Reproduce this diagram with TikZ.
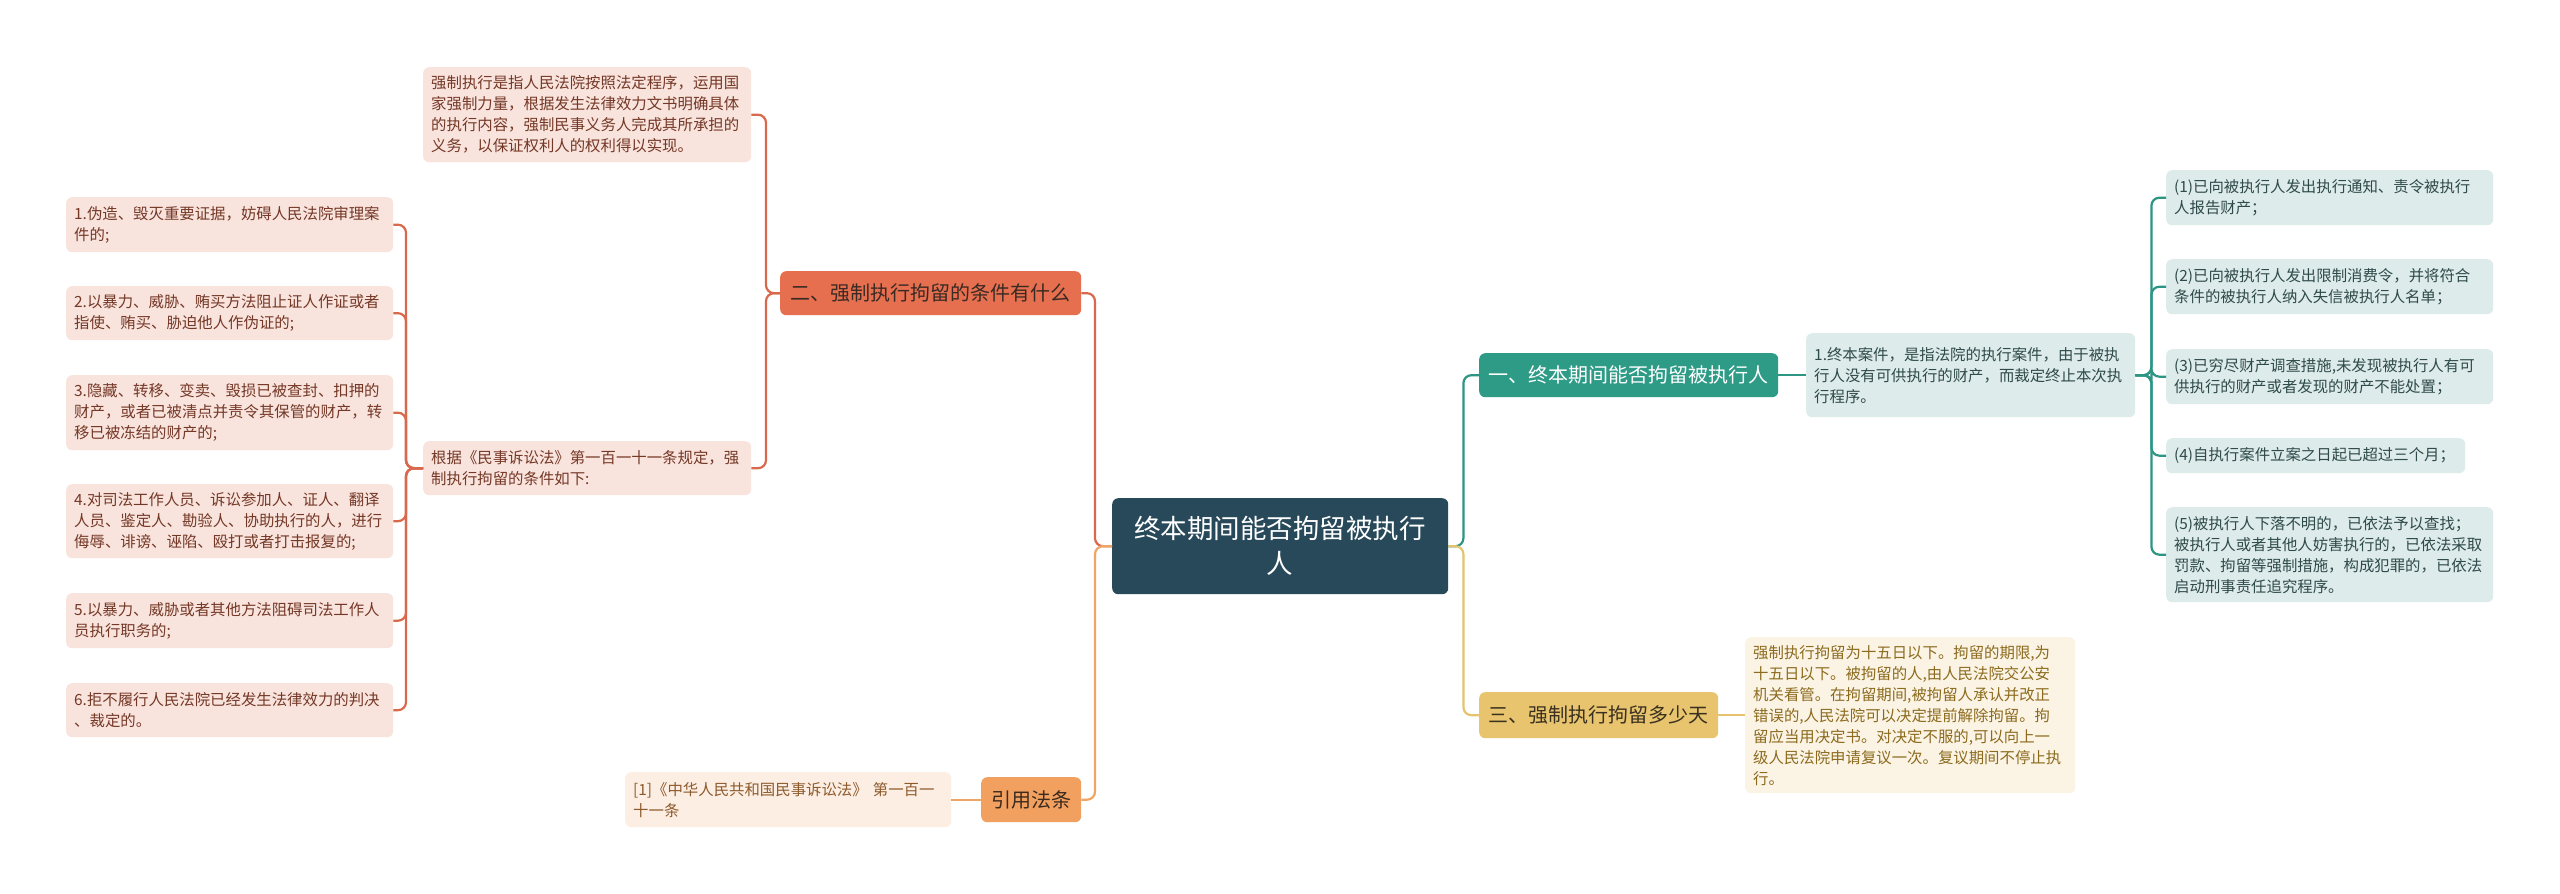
\documentclass[tikz,border=0pt]{standalone}
\usepackage{fontspec}
\setmainfont{Noto Sans CJK SC}
\definecolor{centralfill}{HTML}{27495A}
\definecolor{stwofill}{HTML}{E56F4E}
\definecolor{stwotext}{HTML}{3B2A24}
\definecolor{pinkfill}{HTML}{F9E3DD}
\definecolor{pinktext}{HTML}{743826}
\definecolor{redline}{HTML}{D9694C}
\definecolor{citefill}{HTML}{F1A05F}
\definecolor{citetext}{HTML}{3B2A1E}
\definecolor{reffill}{HTML}{FDEEE3}
\definecolor{reftext}{HTML}{8C5A2C}
\definecolor{orangeline}{HTML}{EFA566}
\definecolor{sonefill}{HTML}{2E9B87}
\definecolor{tealfill}{HTML}{DDEBEA}
\definecolor{tealtext}{HTML}{2F4A4A}
\definecolor{tealline}{HTML}{2C9583}
\definecolor{sthreefill}{HTML}{E7C46D}
\definecolor{sthreetext}{HTML}{3A3020}
\definecolor{goldfill}{HTML}{FBF3E3}
\definecolor{goldtext}{HTML}{8C6B1F}
\definecolor{goldline}{HTML}{E6C36C}
\tikzset{
  leaf/.style={rounded corners=6pt, inner xsep=8pt, inner ysep=3pt, align=left,
    font=\fontsize{15.4}{21}\selectfont, anchor=north west},
  pinkleaf/.style={leaf, fill=pinkfill, text=pinktext},
  refleaf/.style={leaf, fill=reffill, text=reftext},
  tealleaf/.style={leaf, fill=tealfill, text=tealtext},
  goldleaf/.style={leaf, fill=goldfill, text=goldtext},
  head/.style={rounded corners=6pt, inner sep=0pt, align=center, anchor=north west,
    font=\fontsize{20}{24}\selectfont},
  stwohead/.style={head, fill=stwofill, text=stwotext},
  citehead/.style={head, fill=citefill, text=citetext},
  sonehead/.style={head, fill=sonefill, text=white},
  sthreehead/.style={head, fill=sthreefill, text=sthreetext},
  centralhead/.style={head, fill=centralfill, text=white, font=\fontsize{26.5}{35}\selectfont},
  conn/.style={line width=2.2pt, rounded corners=8pt},
}
\newcommand\leafnode[7]{\pgfmathsetmacro\lfw{#5-#3-16}\pgfmathsetmacro\lfh{#6-#4}%
  \node[#2,text width=\lfw pt,minimum height=\lfh pt] (#1) at (#3,#4) {#7};}
\newcommand\headnode[7]{\pgfmathsetmacro\lfw{#5-#3}\pgfmathsetmacro\lfh{#6-#4}%
  \node[#2,minimum width=\lfw pt,minimum height=\lfh pt] (#1) at (#3,#4) {#7};}
\begin{document}
\begin{tikzpicture}[x=1pt,y=-1pt]
\fill[white] (0,0) rectangle (2560,894);
\useasboundingbox (0,0) rectangle (2560,894);

% central
\headnode{c}{centralhead}{1112}{498}{1448}{594}{终本期间能否拘留被执行\\人}

% section 2 branch
\headnode{s2}{stwohead}{780}{271}{1081}{315}{二、强制执行拘留的条件有什么}
\leafnode{def}{pinkleaf}{423}{67}{751}{162}{强制执行是指人民法院按照法定程序，运用国\\家强制力量，根据发生法律效力文书明确具体\\的执行内容，强制民事义务人完成其所承担的\\义务，以保证权利人的权利得以实现。}
\leafnode{intro}{pinkleaf}{423}{441}{751}{495}{根据《民事诉讼法》第一百一十一条规定，强\\制执行拘留的条件如下:}
\leafnode{ia}{pinkleaf}{66}{197}{393}{252}{1.伪造、毁灭重要证据，妨碍人民法院审理案\\件的;}
\leafnode{ib}{pinkleaf}{66}{286}{393}{340}{2.以暴力、威胁、贿买方法阻止证人作证或者\\指使、贿买、胁迫他人作伪证的;}
\leafnode{ic}{pinkleaf}{66}{375}{393}{450}{3.隐藏、转移、变卖、毁损已被查封、扣押的\\财产，或者已被清点并责令其保管的财产，转\\移已被冻结的财产的;}
\leafnode{id}{pinkleaf}{66}{484}{393}{558}{4.对司法工作人员、诉讼参加人、证人、翻译\\人员、鉴定人、勘验人、协助执行的人，进行\\侮辱、诽谤、诬陷、殴打或者打击报复的;}
\leafnode{ie}{pinkleaf}{66}{593}{393}{648}{5.以暴力、威胁或者其他方法阻碍司法工作人\\员执行职务的;}
\leafnode{if}{pinkleaf}{66}{683}{393}{737}{6.拒不履行人民法院已经发生法律效力的判决\\、裁定的。}

% cite branch
\headnode{cite}{citehead}{981}{777}{1081}{822}{引用法条}
\leafnode{ref}{refleaf}{625}{772}{951}{827}{[1]《中华人民共和国民事诉讼法》 第一百一\\十一条}

% section 1 branch
\headnode{s1}{sonehead}{1479}{353}{1778}{397}{一、终本期间能否拘留被执行人}
\leafnode{t1}{tealleaf}{1806}{333}{2135}{417}{1.终本案件，是指法院的执行案件，由于被执\\行人没有可供执行的财产，而裁定终止本次执\\行程序。}
\leafnode{ra}{tealleaf}{2166}{170}{2493}{225}{(1)已向被执行人发出执行通知、责令被执行\\人报告财产；}
\leafnode{rb}{tealleaf}{2166}{259}{2493}{314}{(2)已向被执行人发出限制消费令，并将符合\\条件的被执行人纳入失信被执行人名单；}
\leafnode{rc}{tealleaf}{2166}{349}{2493}{404}{(3)已穷尽财产调查措施,未发现被执行人有可\\供执行的财产或者发现的财产不能处置；}
\leafnode{rd}{tealleaf}{2166}{438}{2465}{473}{(4)自执行案件立案之日起已超过三个月；}
\leafnode{re}{tealleaf}{2166}{507}{2493}{602}{(5)被执行人下落不明的，已依法予以查找；\\被执行人或者其他人妨害执行的，已依法采取\\罚款、拘留等强制措施，构成犯罪的，已依法\\启动刑事责任追究程序。}

% section 3 branch
\headnode{s3}{sthreehead}{1479}{692}{1718}{738}{三、强制执行拘留多少天}
\leafnode{t3}{goldleaf}{1745}{637}{2075}{793}{强制执行拘留为十五日以下。拘留的期限,为\\十五日以下。被拘留的人,由人民法院交公安\\机关看管。在拘留期间,被拘留人承认并改正\\错误的,人民法院可以决定提前解除拘留。拘\\留应当用决定书。对决定不服的,可以向上一\\级人民法院申请复议一次。复议期间不停止执\\行。}

% connectors
\draw[conn,redline] (c.west) -- ++(-17,0) |- (s2.east);
\draw[conn,orangeline] (c.west) -- ++(-17,0) |- (cite.east);
\draw[conn,orangeline] (cite.west) -- (ref.east);
\draw[conn,redline] (s2.west) -- ++(-14,0) |- (def.east);
\draw[conn,redline] (s2.west) -- ++(-14,0) |- (intro.east);
\foreach \k in {ia,ib,ic,id,ie,if}{
  \draw[conn,redline] (intro.west) -- ++(-17,0) |- (\k.east);
}
\draw[conn,tealline] (c.east) -- ++(15,0) |- (s1.west);
\draw[conn,goldline] (c.east) -- ++(15,0) |- (s3.west);
\draw[conn,tealline] (s1.east) -- (t1.west);
\foreach \k in {ra,rb,rc,rd,re}{
  \draw[conn,tealline] (t1.east) -- ++(16,0) |- (\k.west);
}
\draw[conn,goldline] (s3.east) -- (t3.west);
\end{tikzpicture}
\end{document}
